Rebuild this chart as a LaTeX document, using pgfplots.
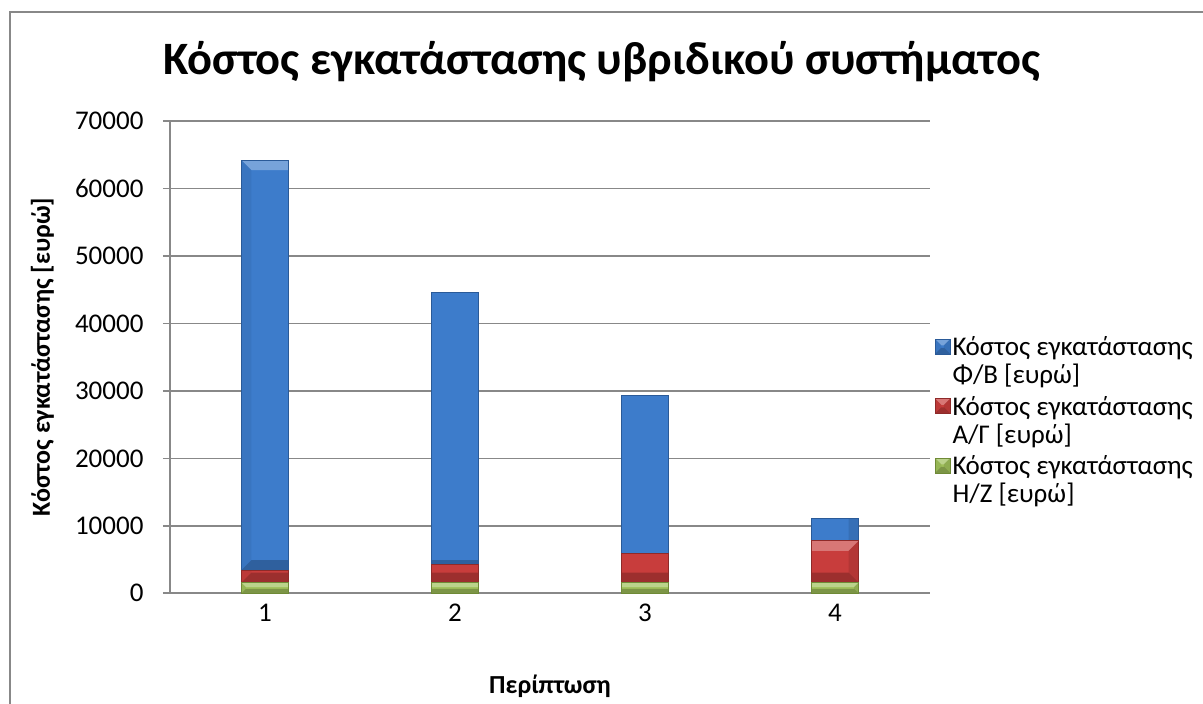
\documentclass[border=0pt]{standalone}
\usepackage{fontspec}
\setmainfont{Carlito}
\usepackage{pgfplots}
\pgfplotsset{compat=1.18}
\usetikzlibrary{calc}

\definecolor{pvblue}{HTML}{3D7CCB}
\definecolor{pvblueedge}{HTML}{2A5A98}
\definecolor{acred}{HTML}{C83D3C}
\definecolor{acrededge}{HTML}{8E2A29}
\definecolor{gengreen}{HTML}{9FC05A}
\definecolor{gengreenedge}{HTML}{6F8A36}
\definecolor{framegray}{HTML}{888888}

% bevelled look of the bar faces: light top, dark bottom, shaded sides
\tikzset{bevelface/.style={path picture={}, draw=none}}
\newcommand\barbevel{%
  \fill[bevelface, white, fill opacity=0.30] let \p1=(path picture bounding box.south west), \p2=(path picture bounding box.north east),
    \n1={min(10,(\y2-\y1)/2.4)} in
    (\x1,\y2) -- (\x2,\y2) -- ({\x2-\n1*1pt},{\y2-\n1*1pt}) -- ({\x1+\n1*1pt},{\y2-\n1*1pt}) -- cycle;
  \fill[bevelface, black, fill opacity=0.22] let \p1=(path picture bounding box.south west), \p2=(path picture bounding box.north east),
    \n1={min(10,(\y2-\y1)/2.4)} in
    (\x1,\y1) -- (\x2,\y1) -- ({\x2-\n1*1pt},{\y1+\n1*1pt}) -- ({\x1+\n1*1pt},{\y1+\n1*1pt}) -- cycle;
  \fill[bevelface, black, fill opacity=0.10] let \p1=(path picture bounding box.south west), \p2=(path picture bounding box.north east),
    \n1={min(10,(\y2-\y1)/2.4)} in
    (\x2,\y1) -- (\x2,\y2) -- ({\x2-\n1*1pt},{\y2-\n1*1pt}) -- ({\x2-\n1*1pt},{\y1+\n1*1pt}) -- cycle;
  \fill[bevelface, black, fill opacity=0.05] let \p1=(path picture bounding box.south west), \p2=(path picture bounding box.north east),
    \n1={min(10,(\y2-\y1)/2.4)} in
    (\x1,\y1) -- (\x1,\y2) -- ({\x1+\n1*1pt},{\y2-\n1*1pt}) -- ({\x1+\n1*1pt},{\y1+\n1*1pt}) -- cycle;
}

\begin{document}
\begin{tikzpicture}[x=1pt,y=1pt]
\useasboundingbox (0,0) rectangle (1203,704);
\fill[white] (0,0) rectangle (1203,704);
\draw[framegray, line width=2pt] (10,-2) -- (10,692) -- (1205,692);
\begin{axis}[
  at={(170pt,110.7pt)}, anchor=south west,
  scale only axis, width=760pt, height=472.3pt,
  ybar stacked, bar width=47pt,
  xmin=0.5, xmax=4.5, ymin=0, ymax=70000,
  xtick={1,2,3,4},
  ytick={0,10000,...,70000},
  scaled y ticks=false,
  /pgf/number format/1000 sep={},
  /pgf/number format/assume math mode=true,
  axis x line*=bottom, axis y line*=left,
  axis line style={draw=framegray, line width=1.6pt, -},
  ymajorgrids, grid style={draw=framegray, line width=1.6pt},
  tick align=outside, major tick length=7pt,
  xtick style={draw=none},
  ytick style={draw=framegray, line width=1.6pt},
  ticklabel style={font=\fontsize{27}{30}\selectfont},
  yticklabel style={xshift=-16pt},
  title={Κόστος εγκατάστασης υβριδικού συστήματος},
  title style={font=\fontsize{46.4}{54}\selectfont\bfseries, at={(axis description cs:0.568,1.112)}, anchor=center},
  xlabel={Περίπτωση},
  xlabel style={font=\fontsize{26}{30}\selectfont\bfseries, at={(axis description cs:0.5,-0.196)}, anchor=center},
  ylabel={Κόστος εγκατάστασης [ευρώ]},
  ylabel style={font=\fontsize{26}{30}\selectfont\bfseries, at={(axis description cs:-0.168,0.5)}, anchor=center, rotate=0},
  reverse legend,
  legend style={draw=none, fill=none, at={(axis description cs:1.002,0.552)}, anchor=north west,
    font=\fontsize{27}{28}\selectfont, row sep=7pt,
    cells={anchor=west, align=left}},
  legend image code/.code={\draw[#1, line width=0.8pt] (-3pt,7pt) rectangle (12pt,22pt);},
]
\addplot[fill=gengreen, draw=gengreenedge, line width=0.8pt, path picture={\barbevel}] coordinates {(1,1570) (2,1570) (3,1570) (4,1570)};
\addplot[fill=acred, draw=acrededge, line width=0.8pt, path picture={\barbevel}] coordinates {(1,1880) (2,2660) (3,4290) (4,6210)};
\addplot[fill=pvblue, draw=pvblueedge, line width=0.8pt, path picture={\barbevel}] coordinates {(1,60750) (2,40300) (3,23440) (4,3310)};
\legend{Κόστος εγκατάστασης\\Η/Ζ [ευρώ], Κόστος εγκατάστασης\\Α/Γ [ευρώ], Κόστος εγκατάστασης\\Φ/Β [ευρώ]}
\end{axis}
\end{tikzpicture}
\end{document}
